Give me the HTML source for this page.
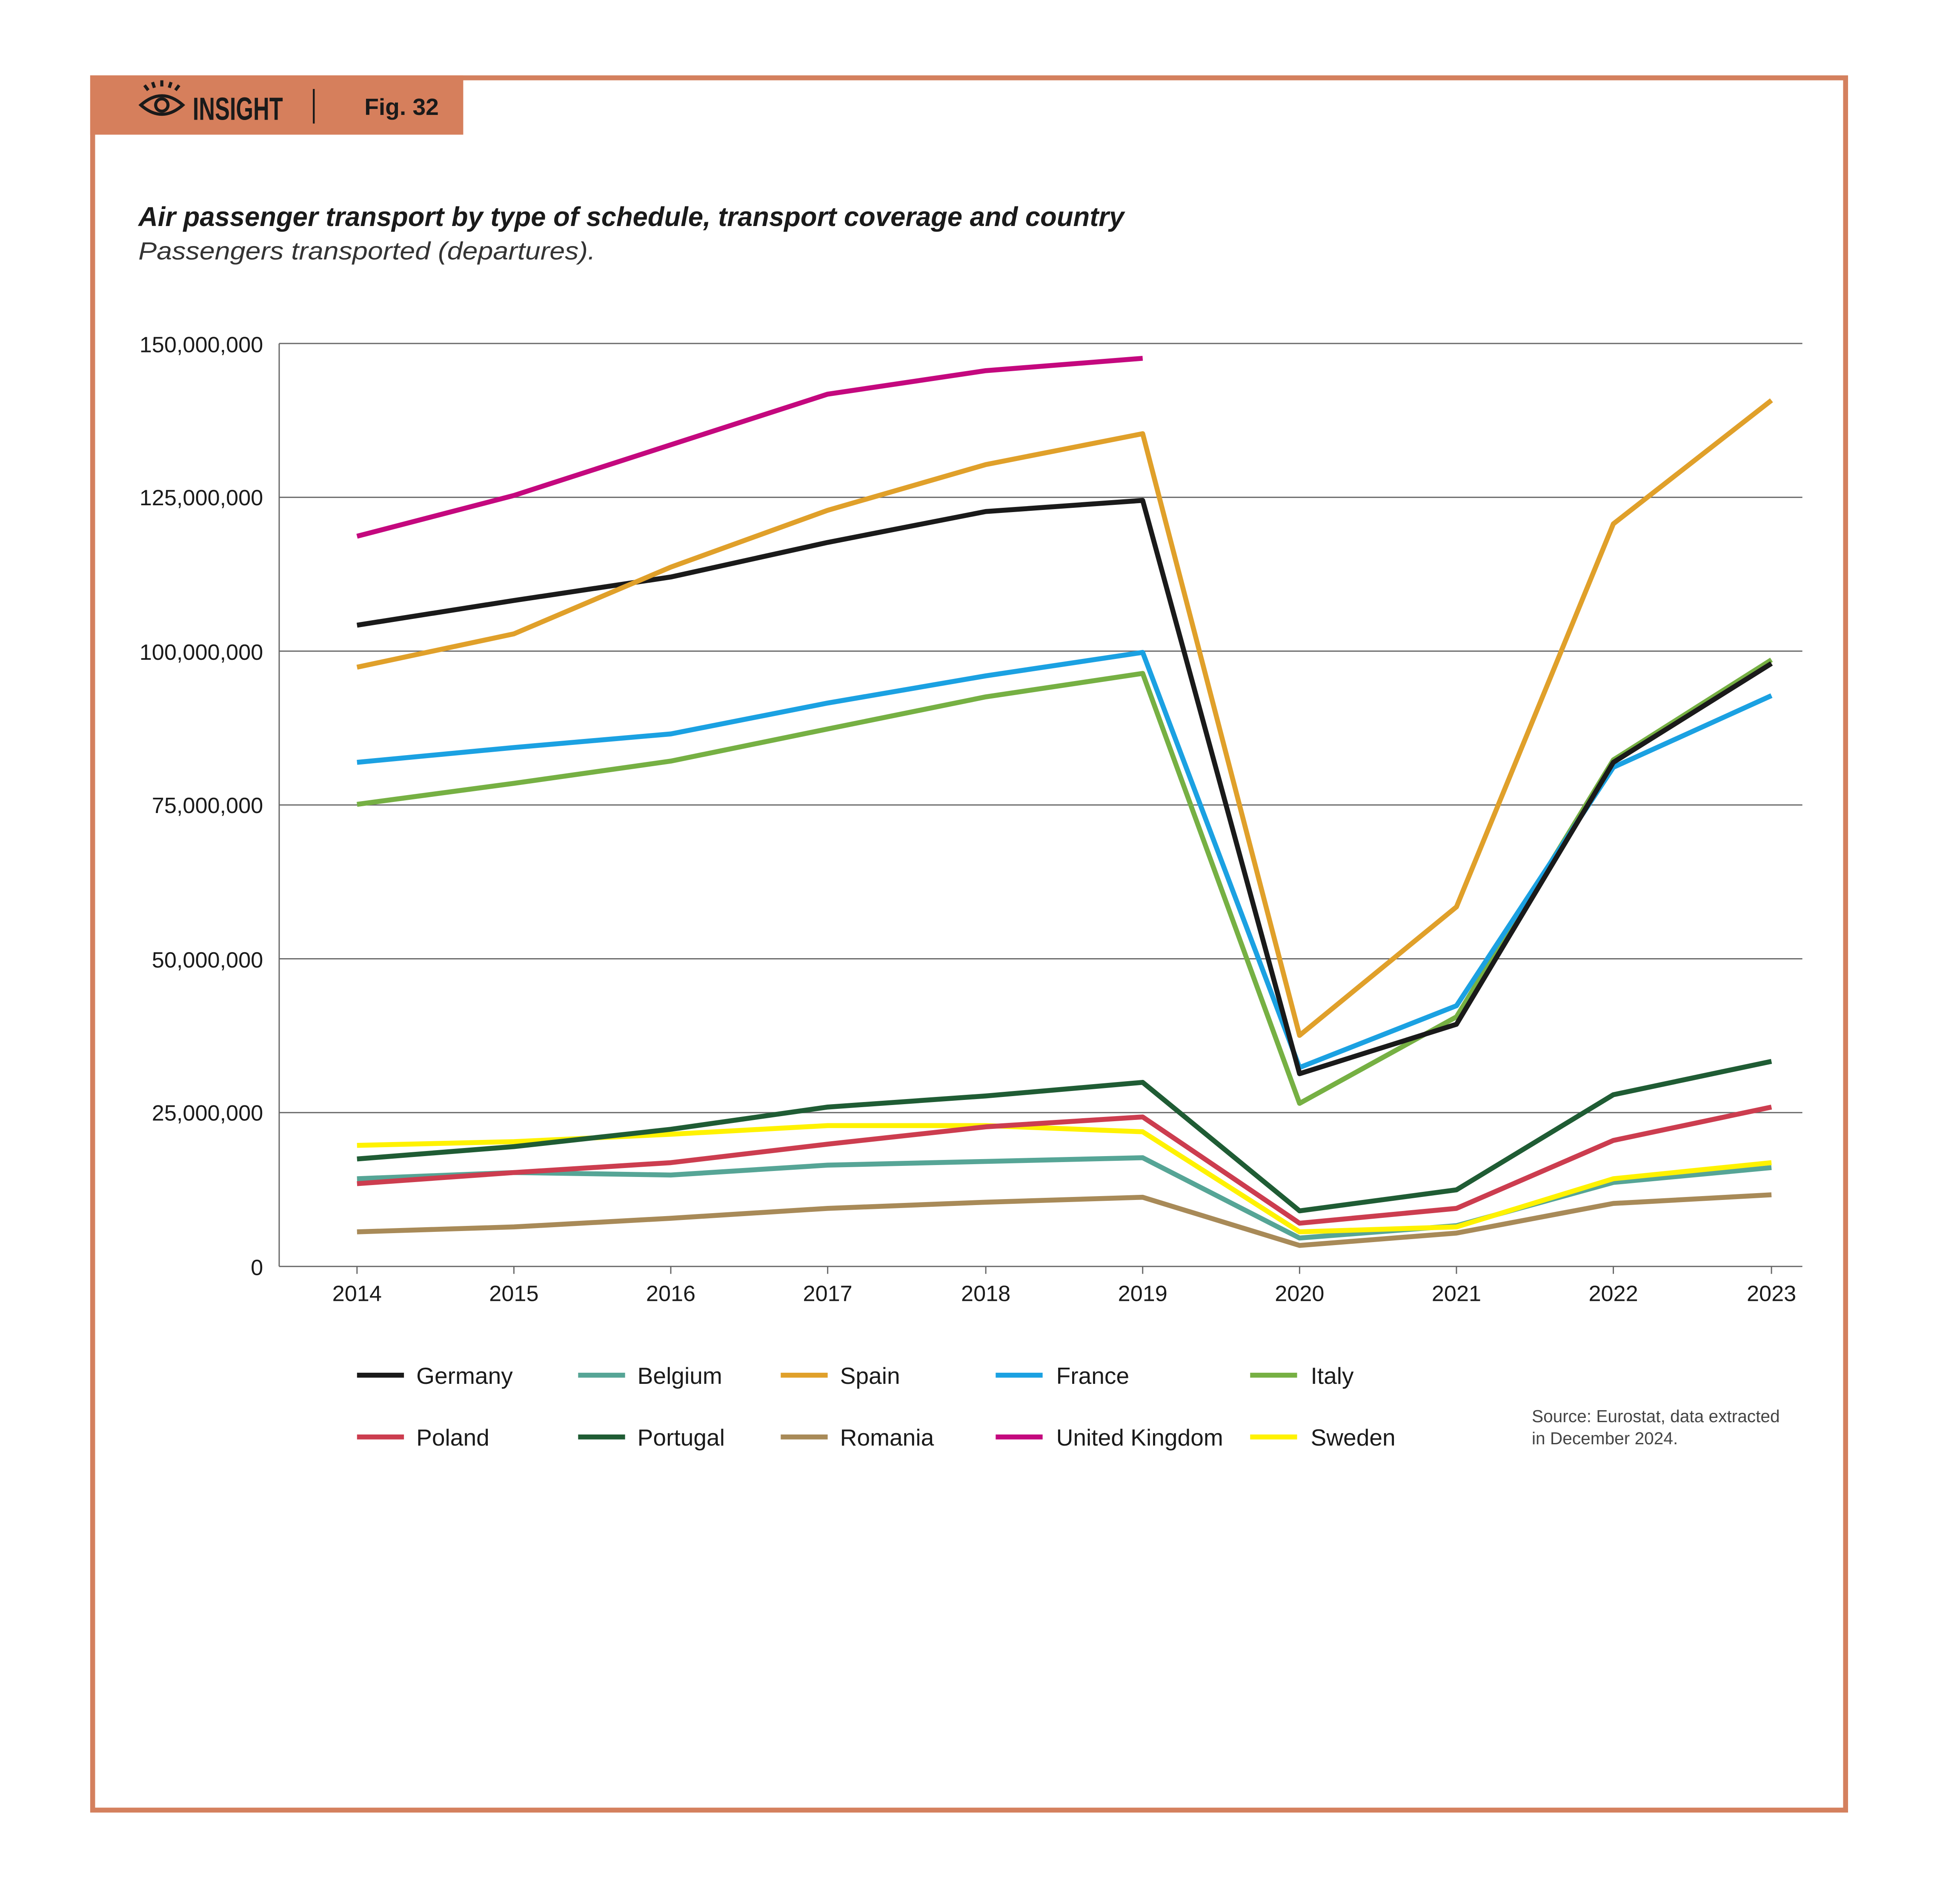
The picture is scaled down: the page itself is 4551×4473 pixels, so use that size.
<!DOCTYPE html>
<html><head><meta charset="utf-8"><style>
html,body{margin:0;padding:0;background:#fff;}
svg{display:block;}
text{font-family:"Liberation Sans",sans-serif;}
</style></head><body>
<svg width="4551" height="4473" viewBox="0 0 1568 1541" preserveAspectRatio="none" xmlns="http://www.w3.org/2000/svg">
<rect x="0" y="0" width="1568" height="1541" fill="#fff"/>
<rect x="75" y="63" width="1419" height="1402" fill="none" stroke="#d4805e" stroke-width="4"/>
<rect x="73" y="61" width="302" height="48" fill="#d67f5c"/>
<g fill="none" stroke="#1a1a1a" stroke-width="2.5">
<path d="M114 85 Q131 70 148 85 Q131 100 114 85 Z"/>
<circle cx="131" cy="85" r="5"/>
<path d="M120 73 l-3 -4 M131 70 v-5 M142 73 l3 -4 M125 71 l-1.5 -4.5 M137 71 l1.5 -4.5"/>
</g>
<text x="156" y="97" font-size="26" font-weight="bold" fill="#1a1a1a" textLength="73" lengthAdjust="spacingAndGlyphs">INSIGHT</text>
<line x1="254" y1="72" x2="254" y2="100" stroke="#1a1a1a" stroke-width="1.5"/>
<text x="295" y="93" font-size="19" font-weight="bold" fill="#1a1a1a">Fig. 32</text>
<text x="112" y="183" font-size="22" font-weight="bold" font-style="italic" fill="#1a1a1a" textLength="798" lengthAdjust="spacingAndGlyphs">Air passenger transport by type of schedule, transport coverage and country</text>
<text x="112" y="210" font-size="20" font-style="italic" fill="#333" textLength="370" lengthAdjust="spacingAndGlyphs">Passengers transported (departures).</text>
<g stroke="#666" stroke-width="1">
<line x1="226" y1="278" x2="1459" y2="278"/>
<line x1="226" y1="402.5" x2="1459" y2="402.5"/>
<line x1="226" y1="527" x2="1459" y2="527"/>
<line x1="226" y1="651.5" x2="1459" y2="651.5"/>
<line x1="226" y1="776" x2="1459" y2="776"/>
<line x1="226" y1="900.5" x2="1459" y2="900.5"/>
<line x1="226" y1="1025" x2="1459" y2="1025"/>
<line x1="226" y1="278" x2="226" y2="1025"/>
</g>
<g stroke="#666" stroke-width="1">
<line x1="289" y1="1025" x2="289" y2="1031"/><line x1="416" y1="1025" x2="416" y2="1031"/><line x1="543" y1="1025" x2="543" y2="1031"/><line x1="670" y1="1025" x2="670" y2="1031"/><line x1="798" y1="1025" x2="798" y2="1031"/><line x1="925" y1="1025" x2="925" y2="1031"/><line x1="1052" y1="1025" x2="1052" y2="1031"/><line x1="1179" y1="1025" x2="1179" y2="1031"/><line x1="1306" y1="1025" x2="1306" y2="1031"/><line x1="1434" y1="1025" x2="1434" y2="1031"/>
</g>
<g font-size="18" fill="#1a1a1a" text-anchor="end">
<text x="213" y="285">150,000,000</text>
<text x="213" y="409">125,000,000</text>
<text x="213" y="534">100,000,000</text>
<text x="213" y="658">75,000,000</text>
<text x="213" y="783">50,000,000</text>
<text x="213" y="907">25,000,000</text>
<text x="213" y="1032">0</text>
</g>
<g font-size="18" fill="#1a1a1a" text-anchor="middle">
<text x="289" y="1053">2014</text><text x="416" y="1053">2015</text><text x="543" y="1053">2016</text><text x="670" y="1053">2017</text><text x="798" y="1053">2018</text><text x="925" y="1053">2019</text><text x="1052" y="1053">2020</text><text x="1179" y="1053">2021</text><text x="1306" y="1053">2022</text><text x="1434" y="1053">2023</text>
</g>
<g fill="none" stroke-width="4" stroke-linejoin="round">
<polyline stroke="#a88a58" points="289,997 416,993 543,986 670,978 798,973 925,969 1052,1008 1179,998 1306,974 1434,967"/>
<polyline stroke="#56a596" points="289,954 416,949 543,951 670,943 798,940 925,937 1052,1002 1179,992 1306,957 1434,945"/>
<polyline stroke="#fff200" points="289,927 416,924 543,918 670,911 798,911 925,916 1052,997 1179,993 1306,954 1434,941"/>
<polyline stroke="#cc3d4f" points="289,958 416,949 543,941 670,926 798,912 925,904 1052,990 1179,978 1306,923 1434,896"/>
<polyline stroke="#1f5c34" points="289,938 416,928 543,914 670,896 798,887 925,876 1052,980 1179,963 1306,886 1434,859"/>
<polyline stroke="#c4087e" points="289,434 416,401 543,360 670,319 798,300 925,290"/>
<polyline stroke="#76b043" points="289,651 416,634 543,616 670,590 798,564 925,545 1052,893 1179,823 1306,615 1434,534"/>
<polyline stroke="#1ba1e2" points="289,617 416,605 543,594 670,569 798,547 925,528 1052,864 1179,814 1306,621 1434,563"/>
<polyline stroke="#1a1a1a" points="289,506 416,486 543,467 670,439 798,414 925,405 1052,869 1179,829 1306,617 1434,537"/>
<polyline stroke="#e0a02a" points="289,540 416,513 543,459 670,413 798,376 925,351 1052,838 1179,734 1306,424 1434,324"/>
</g>
<g stroke-width="4">
<line x1="289" y1="1113" x2="327" y2="1113" stroke="#1a1a1a"/>
<line x1="468" y1="1113" x2="506" y2="1113" stroke="#56a596"/>
<line x1="632" y1="1113" x2="670" y2="1113" stroke="#e0a02a"/>
<line x1="806" y1="1113" x2="844" y2="1113" stroke="#1ba1e2"/>
<line x1="1012" y1="1113" x2="1050" y2="1113" stroke="#76b043"/>
<line x1="289" y1="1163" x2="327" y2="1163" stroke="#cc3d4f"/>
<line x1="468" y1="1163" x2="506" y2="1163" stroke="#1f5c34"/>
<line x1="632" y1="1163" x2="670" y2="1163" stroke="#a88a58"/>
<line x1="806" y1="1163" x2="844" y2="1163" stroke="#c4087e"/>
<line x1="1012" y1="1163" x2="1050" y2="1163" stroke="#fff200"/>
</g>
<g font-size="19" fill="#1a1a1a">
<text x="337" y="1120">Germany</text><text x="516" y="1120">Belgium</text><text x="680" y="1120">Spain</text><text x="855" y="1120">France</text><text x="1061" y="1120">Italy</text>
<text x="337" y="1170">Poland</text><text x="516" y="1170">Portugal</text><text x="680" y="1170">Romania</text><text x="855" y="1170">United Kingdom</text><text x="1061" y="1170">Sweden</text>
</g>
<g font-size="14" fill="#444">
<text x="1240" y="1151">Source: Eurostat, data extracted</text>
<text x="1240" y="1169">in December 2024.</text>
</g>
</svg>
</body></html>
